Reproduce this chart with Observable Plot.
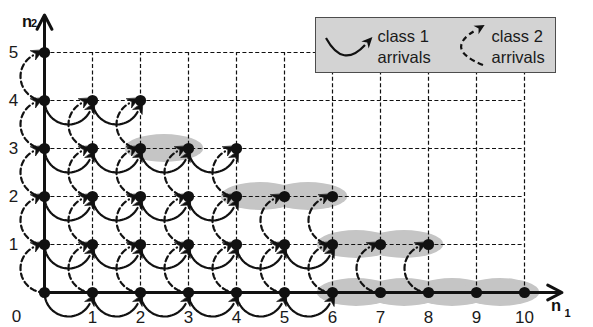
<!DOCTYPE html>
<html>
<head>
<meta charset="utf-8">
<script src="https://cdn.jsdelivr.net/npm/d3@7"></script>
<script src="https://cdn.jsdelivr.net/npm/@observablehq/plot@0.6"></script>
<style>
  html, body { margin: 0; padding: 0; background: #fff; }
  #wrap { position: relative; width: 593px; height: 327px; overflow: hidden;
          font-family: "Liberation Sans", Arial, Helvetica, sans-serif; color: #111; }
  #legend { position: absolute; left: 315px; top: 17px; width: 241px; height: 56px; box-sizing: border-box;
            background: #d3d3d3; border: 1.5px solid #4d4d4d; }
  #legend svg { position: absolute; left: -1.5px; top: -1.5px; }
  #legend .t { position: absolute; top: 8px; font-size: 16.5px; line-height: 20.5px; color: #1a1a1a; }
</style>
</head>
<body>
<div id="wrap"></div>
<script>
// ---- data ----
const n2Rows = [0, 1, 2, 3, 4, 5];
// largest n1 of a state in each n2 row
const lastState = [10, 8, 6, 4, 2, 0];
// last n1 from which a class 1 arrival (n1 -> n1+1) is drawn, per row
const lastClass1From = [5, 5, 3, 3, 1, -1];
// shaded run of states per row (first, last); null = none
const shadedFrom = [6, 6, 4, 2, null, null];
const shadedTo = [10, 8, 6, 3, null, null];
// tick labels
const n1TickLabels = ["1", "2", "3", "4", "5", "6", "7", "8", "9", "10"];
const n2TickLabels = ["1", "2", "3", "4", "5"];
const originLabel = ["0"];

// ---- derived tables ----
const states = n2Rows.flatMap(n2 => d3.range(0, lastState[n2] + 1).map(n1 => ({n1, n2})));
const class1 = n2Rows.flatMap(n2 => d3.range(0, lastClass1From[n2] + 1).map(n1 => ({n1, n2})));
const class2 = n2Rows.filter(n2 => n2 < n2Rows.length - 1)
  .flatMap(n2 => d3.range(0, lastState[n2 + 1] + 1).map(n1 => ({n1, n2})));
const shaded = n2Rows.filter(n2 => shadedFrom[n2] != null)
  .flatMap(n2 => d3.range(shadedFrom[n2], shadedTo[n2]).map(n1 => ({c: n1 + 0.5, n2})));

const n1Max = d3.max(lastState), n2Max = d3.max(n2Rows);
const n1Ticks = n1TickLabels.map(Number), n2Ticks = n2TickLabels.map(Number);

// arc geometry (semicircles of radius half a step)
const END = 0.5;      // angle (rad) left before the target state for the arrow head
const STEPS = 28;
const c1Pts = [], c1Heads = [], c2Pts = [], c2Heads = [];
class1.forEach((d, i) => {
  for (let k = 0; k <= STEPS; ++k) {
    const t = Math.PI - (Math.PI - END) * k / STEPS;
    c1Pts.push({id: i, x: d.n1 + 0.5 + 0.5 * Math.cos(t), y: d.n2 - 0.5 * Math.sin(t)});
  }
  c1Heads.push({x: d.n1 + 0.5 + 0.5 * Math.cos(END), y: d.n2 - 0.5 * Math.sin(END), rot: END * 180 / Math.PI});
});
class2.forEach((d, i) => {
  for (let k = 0; k <= STEPS; ++k) {
    const u = (Math.PI - END) * k / STEPS;
    c2Pts.push({id: i, x: d.n1 - 0.5 * Math.sin(u), y: d.n2 + 0.5 - 0.5 * Math.cos(u)});
  }
  const u = Math.PI - END;
  c2Heads.push({x: d.n1 - 0.5 * Math.sin(u), y: d.n2 + 0.5 - 0.5 * Math.cos(u), rot: 90 - END * 180 / Math.PI});
});

const headShape = {
  draw(ctx, l, r) {
    ctx.moveTo(0, -l);
    ctx.lineTo(r, 0);
    ctx.lineTo(0, -l * 0.3);
    ctx.lineTo(-r, 0);
    ctx.closePath();
  }
};

const ink = "#111";
const overhang = 0.78;
const axes = [
  {x1: 0, y1: 0, x2: n1Max + overhang, y2: 0},
  {x1: 0, y1: 0, x2: 0, y2: n2Max + overhang}
];

const chart = Plot.plot({
  width: 593,
  height: 327,
  marginLeft: 44,
  marginRight: 69,
  marginTop: 52,
  marginBottom: 35,
  x: {domain: [0, n1Max], axis: null},
  y: {domain: [0, n2Max], axis: null},
  style: {fontFamily: "'Liberation Sans', Arial, Helvetica, sans-serif", background: "transparent", overflow: "visible"},
  marks: [
    Plot.rect(shaded, {x1: d => d.c - 0.82, x2: d => d.c + 0.82, y1: d => d.n2 - 0.29, y2: d => d.n2 + 0.29,
      rx: 200, ry: 200, fill: "#c5c5c5"}),
    Plot.ruleY(n2Ticks, {y: d => d, x1: 0, x2: n1Max, stroke: ink, strokeWidth: 1.2, strokeDasharray: "4,2.4"}),
    Plot.ruleX(n1Ticks, {x: d => d, y1: 0, y2: n2Max, stroke: ink, strokeWidth: 1.2, strokeDasharray: "4,2.4"}),
    Plot.arrow(axes, {x1: "x1", y1: "y1", x2: "x2", y2: "y2", stroke: ink, strokeWidth: 3, headLength: 8, headAngle: 55}),
    Plot.line(c2Pts, {x: "x", y: "y", z: "id", stroke: ink, strokeWidth: 2.2, strokeDasharray: "5.5,3.5", curve: "linear"}),
    Plot.line(c1Pts, {x: "x", y: "y", z: "id", stroke: ink, strokeWidth: 2.2, curve: "linear"}),
    Plot.vector(c2Heads, {x: "x", y: "y", rotate: "rot", length: 11, r: 5.2, anchor: "start", shape: headShape,
      fill: ink, stroke: ink, strokeWidth: 0.6}),
    Plot.vector(c1Heads, {x: "x", y: "y", rotate: "rot", length: 11, r: 5.2, anchor: "start", shape: headShape,
      fill: ink, stroke: ink, strokeWidth: 0.6}),
    Plot.dot(states, {x: "n1", y: "n2", r: 5.6, fill: ink, stroke: "none"}),
    Plot.text(n1TickLabels, {x: d => Number(d), y: 0, text: d => d, dy: 25, fontSize: 17, fill: "#1a1a1a"}),
    Plot.text(n2TickLabels, {x: 0, y: d => Number(d), text: d => d, dx: -31, fontSize: 17, fill: "#1a1a1a"}),
    Plot.text(originLabel, {x: 0, y: 0, text: d => d, dx: -28, dy: 24.5, fontSize: 17, fill: "#1a1a1a"}),
    Plot.text(["n"], {frameAnchor: "top-left", dx: 21.5 - 44, dy: 14.5 - 52, fontSize: 16.5, fontWeight: "bold", fill: ink}),
    Plot.text(["2"], {frameAnchor: "top-left", dx: 30.5 - 44, dy: 19 - 52, fontSize: 11, fontWeight: "bold", fill: ink}),
    Plot.text(["n"], {frameAnchor: "bottom-right", dx: 560.5 - 524, dy: 310.5 - 292, fontSize: 16.5, fontWeight: "bold", fill: ink}),
    Plot.text(["1"], {frameAnchor: "bottom-right", dx: 570 - 524, dy: 316 - 292, fontSize: 11, fontWeight: "bold", fill: ink})
  ]
});

const wrap = document.getElementById("wrap");
wrap.appendChild(chart);

// ---- legend (inside the plot area, as in the figure) ----
function head(bx, by, dx, dy, len, half) {
  const n = Math.hypot(dx, dy); dx /= n; dy /= n;
  const px = -dy, py = dx;
  const tx = bx + dx * len, ty = by + dy * len;
  const mx = bx + dx * len * 0.3, my = by + dy * len * 0.3;
  return `${tx},${ty} ${bx + px * half},${by + py * half} ${mx},${my} ${bx - px * half},${by - py * half}`;
}
const legend = document.createElement("div");
legend.id = "legend";
legend.innerHTML = `
<svg width="241" height="56" viewBox="0 0 241 56">
  <path d="M11,21 Q28,52 50,28" fill="none" stroke="${ink}" stroke-width="2.2"/>
  <polygon points="${head(50, 28, 22, -24, 11, 5)}" fill="${ink}"/>
  <path d="M168,48 Q128,32 161,13" fill="none" stroke="${ink}" stroke-width="2.2" stroke-dasharray="5.5,3.5"/>
  <polygon points="${head(161, 13, 33, -19, 10, 5)}" fill="${ink}"/>
</svg>
<div class="t" style="left:61.5px">class 1<br>arrivals</div>
<div class="t" style="left:175.5px">class 2<br>arrivals</div>`;
wrap.appendChild(legend);
</script>
</body>
</html>
